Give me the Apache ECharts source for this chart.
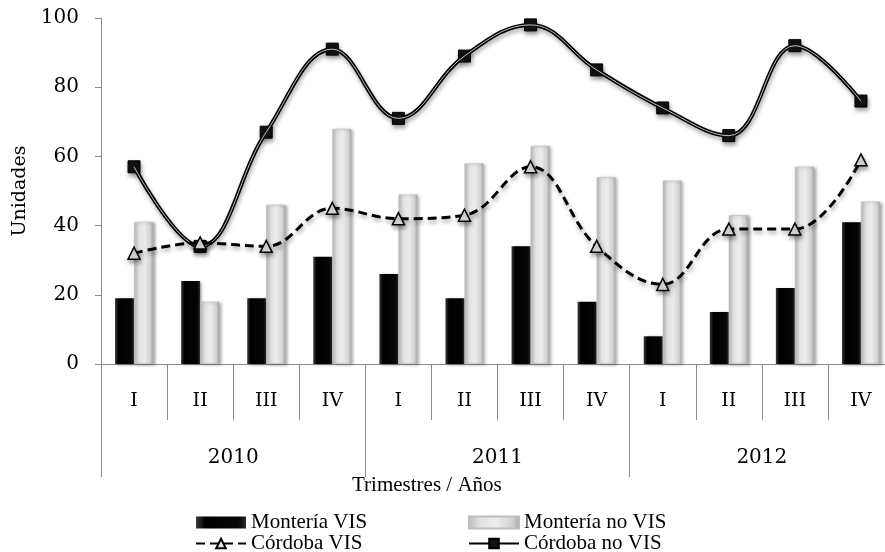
<!DOCTYPE html>
<html>
<head>
<meta charset="utf-8">
<script src="https://cdn.jsdelivr.net/npm/echarts@6/dist/echarts.min.js"></script>
<style>
html, body { margin: 0; padding: 0; background: #fff; }
#grafico { width: 885px; height: 552px; }
</style>
</head>
<body>
<div id="grafico"></div>
<script>
var trimestres = ['I', 'II', 'III', 'IV', 'I', 'II', 'III', 'IV', 'I', 'II', 'III', 'IV'];
var anios = ['2010', '2011', '2012'];
var monteriaVIS = [19, 24, 19, 31, 26, 19, 34, 18, 8, 15, 22, 41];
var monteriaNoVIS = [41, 18, 46, 68, 49, 58, 63, 54, 53, 43, 57, 47];
var cordobaVIS = [32, 35, 34, 45, 42, 43, 57, 34, 23, 39, 39, 59];
var cordobaNoVIS = [57, 34, 67, 91, 71, 89, 98, 85, 74, 66, 92, 76];

var fuenteEje = 'DejaVu Serif';
var fuenteLeyenda = 'Liberation Serif';
var grisEje = '#8a8a8a';

var negro = new echarts.graphic.LinearGradient(0, 0, 1, 0, [
	{ offset: 0, color: '#3c3c3c' },
	{ offset: 0.18, color: '#000' },
	{ offset: 0.85, color: '#050505' },
	{ offset: 1, color: '#2a2a2a' }
]);
var claro = new echarts.graphic.LinearGradient(0, 0, 1, 0, [
	{ offset: 0, color: '#bcbcbc' },
	{ offset: 0.25, color: '#e2e2e2' },
	{ offset: 0.55, color: '#ececec' },
	{ offset: 0.85, color: '#d2d2d2' },
	{ offset: 1, color: '#a6a6a6' }
]);
var sombra = {
	shadowColor: 'rgba(0,0,0,0.35)',
	shadowBlur: 4,
	shadowOffsetX: 1,
	shadowOffsetY: 3
};
var textoLeyenda = { fontFamily: fuenteLeyenda, fontSize: 21, color: '#000', lineHeight: 19 };

var grafico = echarts.init(document.getElementById('grafico'));
var opcion = {
	backgroundColor: '#fff',
	animation: false,
	grid: { left: 101, right: -9, top: 18, bottom: 188, outerBoundsMode: 'none', containLabel: false },
	xAxis: [
		{
			type: 'category',
			data: trimestres,
			position: 'bottom',
			axisLine: { show: true, lineStyle: { color: grisEje, width: 1 } },
			axisTick: { show: true, interval: 0, length: 56, lineStyle: { color: grisEje } },
			axisLabel: { interval: 0, margin: 28, fontFamily: fuenteEje, fontSize: 19, color: '#000' }
		},
		{
			type: 'category',
			data: anios,
			position: 'bottom',
			axisLine: { show: false },
			axisTick: { show: true, interval: 0, length: 113, lineStyle: { color: grisEje } },
			axisLabel: { interval: 0, margin: 84, fontFamily: fuenteEje, fontSize: 20, color: '#000' }
		}
	],
	yAxis: {
		type: 'value',
		min: 0,
		max: 100,
		interval: 20,
		name: 'Unidades',
		nameLocation: 'middle',
		nameRotate: 90,
		nameGap: 70,
		nameTextStyle: { fontFamily: fuenteEje, fontSize: 19, color: '#000' },
		axisLine: { show: true, lineStyle: { color: grisEje, width: 1 } },
		axisTick: { show: true, length: 6, lineStyle: { color: grisEje } },
		axisLabel: { margin: 22, fontFamily: fuenteEje, fontSize: 20, color: '#000' },
		splitLine: { show: false }
	},
	legend: [
		{
			orient: 'vertical',
			left: 195,
			top: 512,
			height: 80,
			padding: 0,
			itemGap: 0,
			itemWidth: 50,
			itemHeight: 12,
			textStyle: textoLeyenda,
			data: [
				{ name: 'Montería VIS', icon: 'rect' },
				{ name: 'Córdoba VIS' }
			]
		},
		{
			orient: 'vertical',
			left: 468,
			top: 512,
			height: 80,
			padding: 0,
			itemGap: 0,
			itemWidth: 50,
			itemHeight: 12,
			textStyle: textoLeyenda,
			data: [
				{ name: 'Montería no VIS', icon: 'rect' },
				{ name: 'Córdoba no VIS' }
			]
		}
	],
	graphic: [
		{
			type: 'text',
			left: 352,
			top: 475,
			style: { text: 'Trimestres / Años', font: '21px "Liberation Serif"', fill: '#000' }
		}
	],
	series: [
		{
			name: 'Montería VIS',
			type: 'bar',
			data: monteriaVIS,
			barWidth: 19,
			barGap: '0%',
			itemStyle: Object.assign({ color: negro }, sombra, { shadowBlur: 3, shadowOffsetY: 1, shadowOffsetX: 2 })
		},
		{
			name: 'Montería no VIS',
			type: 'bar',
			data: monteriaNoVIS,
			barWidth: 19,
			barGap: '0%',
			itemStyle: Object.assign({ color: claro, borderColor: '#bdbdbd', borderWidth: 0.5 }, sombra, { shadowBlur: 3, shadowOffsetY: 1, shadowOffsetX: 2 })
		},
		{
			name: 'Córdoba no VIS',
			type: 'line',
			data: cordobaNoVIS,
			smooth: 0.4,
			symbol: 'rect',
			symbolSize: 12,
			lineStyle: Object.assign({ color: '#000', width: 4 }, sombra),
			itemStyle: Object.assign({ color: '#111', borderColor: '#000', borderWidth: 1 }, sombra),
			z: 3
		},
		{
			name: 'Córdoba no VIS',
			type: 'line',
			data: cordobaNoVIS,
			smooth: 0.4,
			symbol: 'none',
			silent: true,
			lineStyle: { color: 'rgba(255,255,255,0.75)', width: 1 },
			z: 4
		},
		{
			name: 'Córdoba VIS',
			type: 'line',
			data: cordobaVIS,
			smooth: 0.4,
			symbol: 'triangle',
			symbolSize: 12,
			lineStyle: Object.assign({ color: '#000', width: 3, type: [9, 5] }, sombra),
			itemStyle: Object.assign({ color: '#e6e6e6', borderColor: '#000', borderWidth: 1.5 }, sombra),
			z: 5
		}
	]
};
grafico.setOption(opcion);
</script>
</body>
</html>
